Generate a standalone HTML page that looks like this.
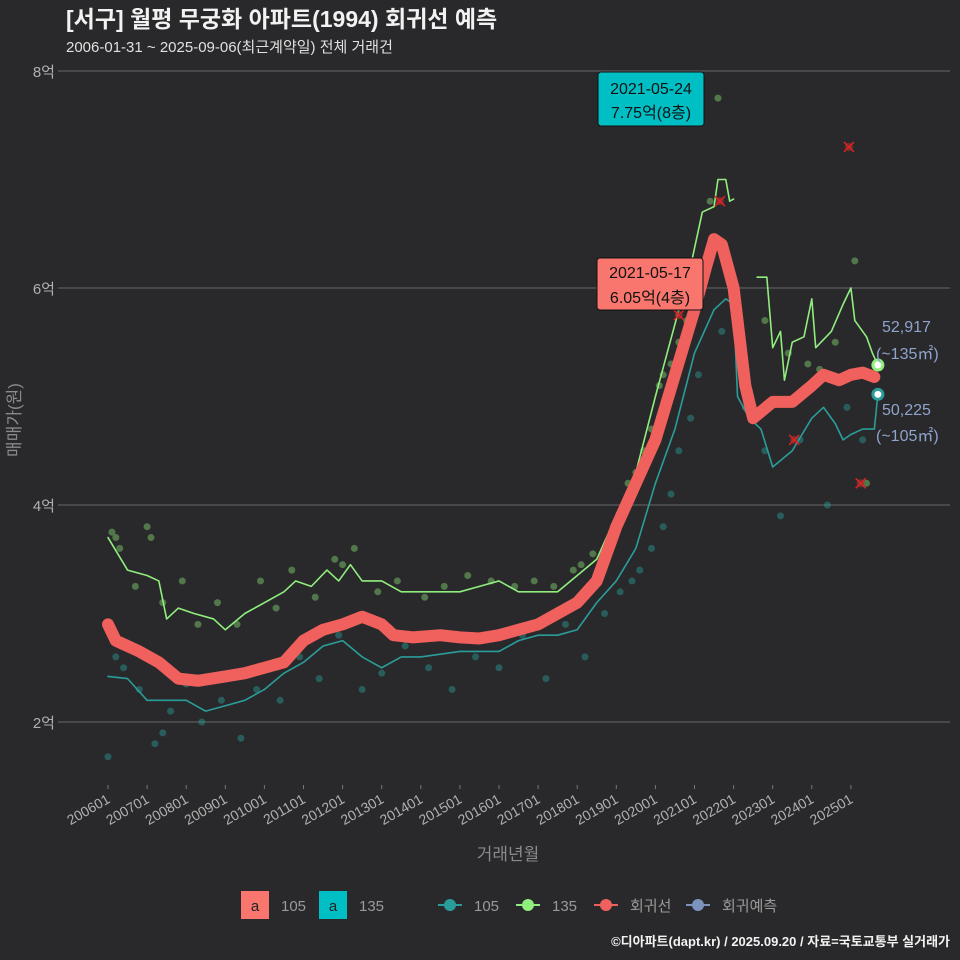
<!DOCTYPE html>
<html><head><meta charset="utf-8"><style>
body{margin:0;background:#29292b;}
svg{display:block;font-family:"Liberation Sans","Noto Sans CJK KR",sans-serif;}
</style></head><body>
<svg id="c" width="960" height="960" viewBox="0 0 960 960">
<rect width="960" height="960" fill="#29292b"/>
<text x="66" y="27" font-size="23" font-weight="bold" fill="#f2f2f2">[서구] 월평 무궁화 아파트(1994) 회귀선 예측</text>
<text x="66" y="52" font-size="15" fill="#e0e0e0">2006-01-31 ~ 2025-09-06(최근계약일) 전체 거래건</text>
<g id="grid"></g>
<g id="pts"></g>
<g id="lines"></g>
<text x="20" y="420" font-size="17" fill="#8a8a8a" transform="rotate(-90 20 420)" text-anchor="middle">매매가(원)</text>
<text x="508" y="860" font-size="17" fill="#8a8a8a" text-anchor="middle">거래년월</text>
<g>
<rect x="241" y="891" width="28" height="28" fill="#f8766d"/>
<text x="255" y="911" font-size="15" fill="#222" text-anchor="middle">a</text>
<text x="281" y="911" font-size="15" fill="#9a9a9a">105</text>
<rect x="319" y="891" width="28" height="28" fill="#00bfc4"/>
<text x="333" y="911" font-size="15" fill="#222" text-anchor="middle">a</text>
<text x="359" y="911" font-size="15" fill="#9a9a9a">135</text>
<line x1="438" y1="905" x2="462" y2="905" stroke="#2a9d9a" stroke-width="2"/><circle cx="450" cy="905" r="6" fill="#2a9d9a"/>
<text x="474" y="911" font-size="15" fill="#9a9a9a">105</text>
<line x1="516" y1="905" x2="540" y2="905" stroke="#90ee7e" stroke-width="2"/><circle cx="528" cy="905" r="6" fill="#90ee7e"/>
<text x="552" y="911" font-size="15" fill="#9a9a9a">135</text>
<line x1="594" y1="905" x2="618" y2="905" stroke="#f0605d" stroke-width="2"/><circle cx="606" cy="905" r="6" fill="#f0605d"/>
<text x="630" y="911" font-size="15" fill="#9a9a9a">회귀선</text>
<line x1="686" y1="905" x2="710" y2="905" stroke="#7b93bd" stroke-width="2"/><circle cx="698" cy="905" r="6" fill="#7b93bd"/>
<text x="722" y="911" font-size="15" fill="#9a9a9a">회귀예측</text>
</g>
<text x="950" y="946" font-size="13" font-weight="bold" fill="#f2f2f2" text-anchor="end">©디아파트(dapt.kr) / 2025.09.20 / 자료=국토교통부 실거래가</text>
<g id="ann">
<g>
<rect x="598" y="72" width="106" height="54" rx="3" fill="#00bfc4" stroke="#111"/>
<text x="651" y="94" font-size="16" fill="#111" text-anchor="middle">2021-05-24</text>
<text x="651" y="118" font-size="16" fill="#111" text-anchor="middle">7.75억(8층)</text>
</g>
<g>
<rect x="597" y="258" width="106" height="52" rx="3" fill="#f8766d" stroke="#111"/>
<text x="650" y="278" font-size="16" fill="#111" text-anchor="middle">2021-05-17</text>
<text x="650" y="303" font-size="16" fill="#111" text-anchor="middle">6.05억(4층)</text>
</g>
</g>
<text x="882" y="332" font-size="16" fill="#8fa3cc">52,917</text>
<text x="876" y="359" font-size="16" fill="#8fa3cc">(~135㎡)</text>
<text x="882" y="415" font-size="16" fill="#8fa3cc">50,225</text>
<text x="876" y="441" font-size="16" fill="#8fa3cc">(~105㎡)</text>
</svg>
<script>
const yTicks=[2,4,6,8];
const yTickLabels=["2억","4억","6억","8억"];
const xTicks=[2006,2007,2008,2009,2010,2011,2012,2013,2014,2015,2016,2017,2018,2019,2020,2021,2022,2023,2024,2025];
const xTickLabels=["200601","200701","200801","200901","201001","201101","201201","201301","201401","201501","201601","201701","201801","201901","202001","202101","202201","202301","202401","202501"];
const t135=[2006.0,2006.5,2007.0,2007.3,2007.5,2007.8,2008.2,2008.7,2009.0,2009.5,2010.0,2010.5,2010.8,2011.2,2011.6,2011.9,2012.2,2012.5,2013.0,2013.5,2014.0,2015.0,2015.5,2016.0,2016.5,2017.0,2017.5,2018.0,2018.5,2019.0,2019.5,2020.0,2020.3,2020.6,2020.9,2021.2,2021.5,2021.6,2021.8,2021.9,2022.0];
const v135=[3.7,3.4,3.35,3.3,2.95,3.05,3.0,2.95,2.85,3.0,3.1,3.2,3.3,3.25,3.4,3.3,3.45,3.3,3.3,3.2,3.2,3.2,3.25,3.3,3.2,3.2,3.2,3.35,3.5,3.9,4.3,5.0,5.4,5.8,6.2,6.7,6.75,7.0,7.0,6.8,6.82];
const t135b=[2022.6,2022.85,2023.0,2023.2,2023.3,2023.5,2023.8,2024.0,2024.1,2024.5,2024.8,2025.0,2025.1,2025.4,2025.55,2025.69];
const v135b=[6.1,6.1,5.45,5.6,5.15,5.5,5.55,5.9,5.45,5.6,5.85,6.0,5.7,5.55,5.4,5.29];
const t105=[2006.0,2006.5,2007.0,2008.0,2008.5,2009.0,2009.5,2010.0,2010.5,2011.0,2011.5,2012.0,2012.5,2013.0,2013.5,2014.0,2015.0,2016.0,2016.5,2017.0,2017.5,2018.0,2018.5,2019.0,2019.5,2020.0,2020.5,2021.0,2021.5,2021.8,2022.0,2022.1,2022.4,2022.7,2023.0,2023.5,2024.0,2024.3,2024.6,2024.8,2025.0,2025.3,2025.6,2025.69];
const v105=[2.42,2.4,2.2,2.2,2.1,2.15,2.2,2.3,2.45,2.55,2.7,2.75,2.6,2.5,2.6,2.6,2.65,2.65,2.75,2.8,2.8,2.85,3.1,3.3,3.6,4.2,4.7,5.4,5.8,5.9,5.85,5.0,4.8,4.7,4.35,4.5,4.8,4.9,4.75,4.6,4.65,4.7,4.7,5.02];
const tReg=[2006.0,2006.2,2006.8,2007.3,2007.8,2008.3,2009.0,2009.5,2010.0,2010.5,2011.0,2011.5,2012.0,2012.5,2013.0,2013.3,2013.8,2014.5,2015.0,2015.5,2016.0,2016.5,2017.0,2017.5,2018.0,2018.5,2019.0,2019.5,2020.0,2020.5,2021.0,2021.3,2021.5,2021.7,2022.0,2022.3,2022.5,2023.0,2023.5,2024.0,2024.3,2024.7,2025.0,2025.3,2025.6];
const vReg=[2.9,2.75,2.65,2.55,2.4,2.38,2.42,2.45,2.5,2.55,2.75,2.85,2.9,2.97,2.9,2.8,2.78,2.8,2.78,2.77,2.8,2.85,2.9,3.0,3.1,3.3,3.8,4.2,4.6,5.2,5.8,6.2,6.45,6.4,6.0,5.1,4.8,4.95,4.95,5.1,5.2,5.15,5.2,5.22,5.18];
const pt135=[2006.1,2006.2,2006.3,2006.7,2007.0,2007.1,2007.4,2007.9,2008.3,2008.8,2009.3,2009.9,2010.3,2010.7,2011.3,2011.8,2012.0,2012.3,2012.9,2013.4,2014.1,2014.6,2015.2,2015.8,2016.4,2016.9,2017.4,2017.9,2018.1,2018.4,2018.9,2019.1,2019.3,2019.5,2019.7,2019.9,2020.1,2020.2,2020.4,2020.6,2020.8,2021.0,2021.4,2021.6,2022.8,2023.4,2023.9,2024.2,2024.6,2025.1,2025.4];
const pv135=[3.75,3.7,3.6,3.25,3.8,3.7,3.1,3.3,2.9,3.1,2.9,3.3,3.05,3.4,3.15,3.5,3.45,3.6,3.2,3.3,3.15,3.25,3.35,3.3,3.25,3.3,3.25,3.4,3.45,3.55,3.7,3.9,4.2,4.3,4.5,4.7,5.1,5.2,5.3,5.5,5.7,6.0,6.8,7.75,5.7,5.4,5.3,5.25,5.5,6.25,4.2];
const pt105=[2006.0,2006.2,2006.4,2006.8,2007.2,2007.4,2007.6,2008.0,2008.4,2008.9,2009.4,2009.8,2010.4,2010.9,2011.4,2011.9,2012.5,2013.0,2013.6,2014.2,2014.8,2015.4,2016.0,2016.6,2017.2,2017.7,2018.2,2018.7,2019.1,2019.4,2019.6,2019.9,2020.2,2020.4,2020.6,2020.9,2021.1,2021.7,2022.3,2022.8,2023.2,2023.7,2024.4,2024.9,2025.3];
const pv105=[1.68,2.6,2.5,2.3,1.8,1.9,2.1,2.35,2.0,2.2,1.85,2.3,2.2,2.6,2.4,2.8,2.3,2.45,2.7,2.5,2.3,2.6,2.5,2.8,2.4,2.9,2.6,3.0,3.2,3.3,3.4,3.6,3.8,4.1,4.5,4.8,5.2,5.6,4.9,4.5,3.9,4.6,4.0,4.9,4.6];
const xMark=[2021.65,2020.6,2024.95,2023.55,2025.25];
const vMark=[6.8,5.75,7.3,4.6,4.2];

const NS="http://www.w3.org/2000/svg";
const X=t=>108+(t-2006)*39.1;
const Y=v=>722-(v-2)*108.5;
function mk(tag,attrs,parent){const e=document.createElementNS(NS,tag);for(const k in attrs)e.setAttribute(k,attrs[k]);parent.appendChild(e);return e;}
const grid=document.getElementById('grid'),pts=document.getElementById('pts'),lines=document.getElementById('lines');
yTicks.forEach((v,i)=>{
 const l=mk('line',{x1:58,x2:950,y1:Y(v),y2:Y(v),stroke:'#5c5c5c','stroke-width':1.2},grid);
 
 
 const t=mk('text',{x:55,y:Y(v)+6,'font-size':15,fill:'#b0b0b0','text-anchor':'end'},grid);
 t.textContent=yTickLabels[i];
 
 
});
xTicks.forEach((v,i)=>{
 mk('line',{x1:X(v),x2:X(v),y1:785,y2:789,stroke:'#777'},grid);
 const t=mk('text',{x:X(v)+3,y:802,'font-size':14,fill:'#b0b0b0','text-anchor':'end',transform:`rotate(-30 ${X(v)+3} 802)`},grid);
 t.textContent=xTickLabels[i];
 
 
});
pt135.forEach((t,i)=>{
 const c=mk('circle',{cx:X(t),cy:Y(pv135[i]),r:3.5,fill:'#90ee7e','fill-opacity':0.4},pts);
 
 
});
pt105.forEach((t,i)=>{
 const c=mk('circle',{cx:X(t),cy:Y(pv105[i]),r:3.5,fill:'#2a9d9a','fill-opacity':0.45},pts);
 
 
});
function path(ts,vs,col,w,name){
 const p=mk('polyline',{points:ts.map((t,i)=>X(t)+','+Y(vs[i])).join(' '),fill:'none',stroke:col,'stroke-width':w,'stroke-linejoin':'round','stroke-linecap':'round'},lines);
 
 
}
path(t105,v105,'#2a9d9a',1.6,'line-105');
path(t135,v135,'#90ee7e',1.6,'line-135');
path(t135b,v135b,'#90ee7e',1.6,'line-135-recent');
path(tReg,vReg,'#f0605d',12,'regression-line');
xMark.forEach((t,i)=>{
 const g=mk('g',{},lines);
 
 
 const x=X(t),y=Y(vMark[i]);
 mk('circle',{cx:x,cy:y,r:4,fill:'#a33','fill-opacity':0.6},g);
 mk('path',{d:`M${x-5} ${y-5}L${x+5} ${y+5}M${x+5} ${y-5}L${x-5} ${y+5}`,stroke:'#d22','stroke-width':1.5},g);
});
const e1=mk('circle',{cx:X(t135b[t135b.length-1]),cy:Y(v135b[v135b.length-1]),r:5,fill:'#fff',stroke:'#90ee7e','stroke-width':3},lines);


const e2=mk('circle',{cx:X(t105[t105.length-1]),cy:Y(v105[v105.length-1]),r:5,fill:'#fff',stroke:'#2a9d9a','stroke-width':3},lines);


document.getElementById('c').appendChild(document.getElementById('ann'));
</script>
</body></html>
